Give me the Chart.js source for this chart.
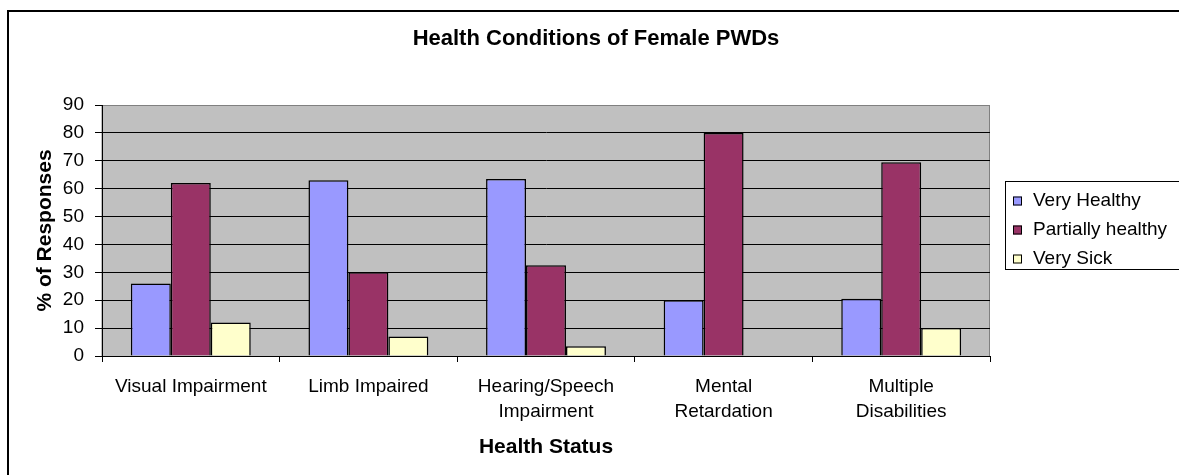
<!doctype html>
<html lang="en">

<head>
    <meta charset="utf-8">
    <script src="https://cdn.jsdelivr.net/npm/chart.js@4.4.0/dist/chart.umd.min.js"></script>
    <style>
        html,
        body {
            margin: 0;
            padding: 0;
            background: #fff;
            overflow: hidden;
        }

        #wrap {
            position: relative;
            width: 1179px;
            height: 475px;
        }
    </style>
</head>

<body>
    <div id="wrap"><canvas id="myChart"></canvas></div>

    <script>
        // chart data
        const chartTitle = 'Health Conditions of Female PWDs';
        const xTitle = 'Health Status';
        const yTitle = '% of Responses';
        const categories = ['Visual Impairment', 'Limb Impaired', ['Hearing/Speech', 'Impairment'], ['Mental', 'Retardation'], ['Multiple', 'Disabilities']];
        const seriesNames = ['Very Healthy', 'Partially healthy', 'Very Sick'];
        const veryHealthy = [26, 63, 63.5, 20, 20.5];
        const partiallyHealthy = [62, 30, 32.5, 80, 69.5];
        const verySick = [12, 7, 3.5, 0, 10];
        const yMax = 90;
        const yStep = 10;

        const colors = ['#9999FF', '#993366', '#FFFFCC'];
        const fontFamily = "'Liberation Sans', Arial, sans-serif";

        // white page, outer frame, grey plot area
        const framePlugin = {
            id: 'frame',
            beforeDraw(chart) {
                const c = chart.ctx;
                const a = chart.chartArea;
                c.save();
                c.fillStyle = '#fff';
                c.fillRect(0, 0, chart.width, chart.height);
                c.strokeStyle = '#000';
                c.lineWidth = 2;
                c.strokeRect(8, 11, chart.width + 50, chart.height + 50);
                c.fillStyle = '#C0C0C0';
                c.fillRect(a.left, a.top, a.right - a.left, a.bottom - a.top);
                c.strokeStyle = '#808080';
                c.lineWidth = 1;
                c.strokeRect(a.left, a.top + 0.5, a.right - a.left - 0.5, a.bottom - a.top);
                c.restore();
            },
            afterDraw(chart) {
                const c = chart.ctx;
                c.save();
                // title
                c.fillStyle = '#000';
                c.font = 'bold 22px ' + fontFamily;
                c.textAlign = 'center';
                c.textBaseline = 'middle';
                c.fillText(chartTitle, 596, 39);

                // legend
                c.strokeStyle = '#000';
                c.lineWidth = 1;
                c.strokeRect(1005.5, 181.5, 300, 88);
                c.font = '19px ' + fontFamily;
                c.textAlign = 'left';
                chart.data.datasets.forEach((ds, i) => {
                    const y = 201 + i * 29;
                    c.fillStyle = ds.backgroundColor;
                    c.fillRect(1013, y - 4.5, 9, 9);
                    c.strokeRect(1013.5, y - 4, 8, 8);
                    c.fillStyle = '#000';
                    c.fillText(ds.label, 1033, y);
                });
                c.restore();
            }
        };

        const ctx = document.getElementById('myChart');
        const myChart = new Chart(ctx, {
            type: 'bar',
            data: {
                labels: categories,
                datasets: [
                    { label: seriesNames[0], data: veryHealthy, backgroundColor: colors[0] },
                    { label: seriesNames[1], data: partiallyHealthy, backgroundColor: colors[1] },
                    { label: seriesNames[2], data: verySick, backgroundColor: colors[2] }
                ].map(ds => Object.assign(ds, {
                    borderColor: '#000',
                    borderWidth: 1.5,
                    borderSkipped: 'bottom',
                    categoryPercentage: 0.675,
                    barPercentage: 1
                }))
            },
            options: {
                responsive: true,
                maintainAspectRatio: false,
                animation: false,
                layout: { padding: { left: 0, right: 189, top: 105, bottom: 0 } },
                plugins: {
                    legend: { display: false },
                    title: { display: false },
                    tooltip: { enabled: false }
                },
                scales: {
                    x: {
                        afterFit(scale) { scale.height = 119; },
                        grid: {
                            offset: true,
                            drawOnChartArea: false,
                            drawTicks: true,
                            tickLength: 6,
                            color: '#000'
                        },
                        border: { color: '#000', width: 1 },
                        ticks: {
                            color: '#000',
                            maxRotation: 0,
                            autoSkip: false,
                            padding: 12,
                            font: { family: fontFamily, size: 19, lineHeight: 1.316 }
                        },
                        title: {
                            display: true,
                            text: xTitle,
                            color: '#000',
                            padding: { top: 0, bottom: 15 },
                            font: { family: fontFamily, size: 21, weight: 'bold' }
                        }
                    },
                    y: {
                        min: 0,
                        max: yMax,
                        afterFit(scale) { scale.width = 102; },
                        grid: {
                            color: c => c.tick && c.tick.value === yMax ? '#808080' : '#000',
                            tickColor: '#000',
                            tickLength: 7,
                            lineWidth: 1
                        },
                        border: { color: '#000', width: 1 },
                        ticks: {
                            stepSize: yStep,
                            color: '#000',
                            padding: 11,
                            font: { family: fontFamily, size: 19 }
                        },
                        title: {
                            display: true,
                            text: yTitle,
                            color: '#000',
                            padding: { top: 33, bottom: 0 },
                            font: { family: fontFamily, size: 21, weight: 'bold' }
                        }
                    }
                }
            },
            plugins: [framePlugin]
        });
    </script>
</body>

</html>
